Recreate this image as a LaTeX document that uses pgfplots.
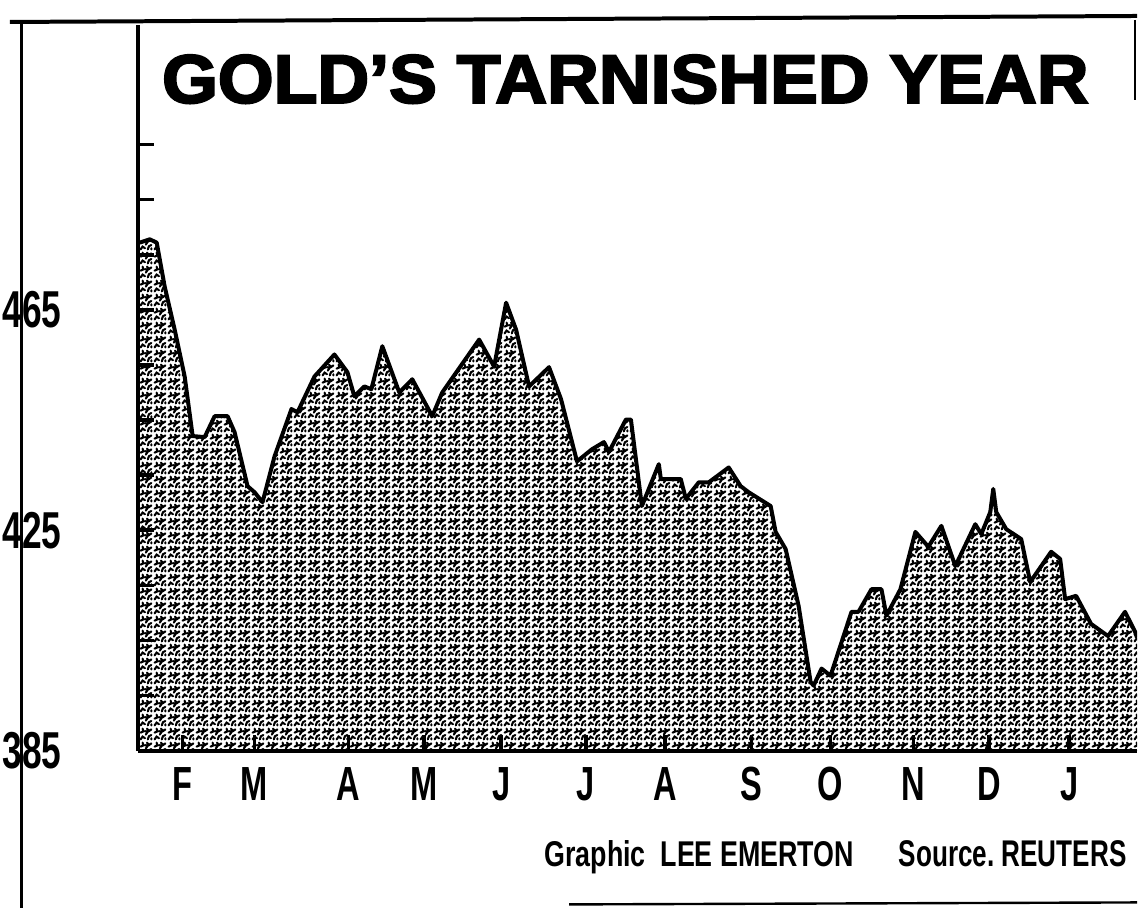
\documentclass[border=0pt]{standalone}
\usepackage{pgfplots}
\pgfplotsset{compat=1.18}
\usepackage{pgfplotstable}
\usetikzlibrary{patterns}
\usepackage{fontspec}
\setmainfont{Liberation Sans}
\newfontfamily\cond[FakeStretch=0.68]{Liberation Sans}
\newfontfamily\heavy[FakeBold=3]{Liberation Sans}

\pgfdeclarepatternformonly{stipple}{\pgfpointorigin}{\pgfpoint{7pt}{7pt}}{\pgfpoint{7pt}{7pt}}{%
  \pgfsetlinewidth{1.05pt}%
  \pgfsetroundcap
  \pgfpathmoveto{\pgfpoint{0.8pt}{0.8pt}}\pgfpathlineto{\pgfpoint{1.8pt}{2.2pt}}\pgfpathlineto{\pgfpoint{3.0pt}{1.4pt}}%
  \pgfpathmoveto{\pgfpoint{4.4pt}{0.8pt}}\pgfpathlineto{\pgfpoint{5.0pt}{2.4pt}}\pgfpathlineto{\pgfpoint{6.2pt}{3.0pt}}%
  \pgfpathmoveto{\pgfpoint{0.8pt}{4.2pt}}\pgfpathlineto{\pgfpoint{2.2pt}{4.8pt}}\pgfpathlineto{\pgfpoint{1.8pt}{6.2pt}}%
  \pgfpathmoveto{\pgfpoint{3.4pt}{3.2pt}}\pgfpathlineto{\pgfpoint{4.2pt}{4.4pt}}\pgfpathlineto{\pgfpoint{3.2pt}{5.0pt}}%
  \pgfpathmoveto{\pgfpoint{4.0pt}{6.2pt}}\pgfpathlineto{\pgfpoint{5.0pt}{5.0pt}}\pgfpathlineto{\pgfpoint{6.2pt}{5.8pt}}%
  \pgfpathmoveto{\pgfpoint{6.2pt}{0.8pt}}\pgfpathlineto{\pgfpoint{6.2pt}{1.4pt}}%
  \pgfusepath{stroke}%
}

% x: position along the year (page units), y: gold price
\pgfplotstableread{
x y
140 477.2
150 477.8
157 477.2
165 469.2
175 461.4
185 452.9
193 442.1
205 441.9
215 445.7
228 445.7
235 442.8
248 433.0
255 431.9
263 430.1
275 438.4
292 447.0
298 446.4
315 452.9
335 456.9
348 453.7
355 449.3
365 451.1
372 450.6
383 458.4
400 450.0
413 452.4
433 445.7
443 450.0
480 459.6
495 454.7
507 466.3
517 461.4
530 451.1
550 454.6
562 448.8
578 437.5
593 439.7
605 441.0
610 439.2
627 445.1
632 445.1
643 429.4
660 437.0
662 434.3
682 434.3
687 430.7
700 433.7
710 433.7
730 436.4
742 433.0
750 431.9
772 429.4
777 424.7
787 421.6
800 411.3
812 397.5
815 396.8
823 399.9
832 398.6
853 410.2
860 410.2
873 414.3
883 414.3
888 409.5
902 414.3
917 424.7
930 422.0
943 425.8
957 418.5
977 426.1
983 424.3
992 428.3
995 432.5
998 428.3
1008 425.2
1023 423.4
1032 415.6
1053 421.1
1062 419.8
1067 412.5
1078 413.1
1093 408.0
1110 405.8
1127 410.2
1137 406.6
1139 405.5
}\gold

\begin{document}
\begin{tikzpicture}
\begin{scope}[x=0.5pt,y=-0.5pt]
  \path[use as bounding box] (0,0) rectangle (1139,910);
  \draw[line width=2pt] (10,22) -- (1139,16);
  \draw[line width=1.5pt] (22,21) -- (22,910);
  \draw[line width=1pt] (1137,20) -- (1137,100);
  \draw[line width=1.2pt] (570,906) -- (1139,904);
  \node[anchor=base west, inner sep=0pt] at (162,103)
    {\resizebox{464pt}{24pt}{\heavy\bfseries GOLD’S TARNISHED YEAR}};
  \node[anchor=base west, inner sep=0pt] at (545,868)
    {\resizebox{155pt}{13pt}{\cond\bfseries Graphic\ \ LEE EMERTON}};
  \node[anchor=base west, inner sep=0pt] at (900,868)
    {\resizebox{114pt}{13pt}{\cond\bfseries Source.\ REUTERS}};
\end{scope}
\begin{axis}[
  at={(69pt,-376pt)}, anchor=south west,
  scale only axis, width=500.5pt, height=363.5pt,
  xmin=138, xmax=1139, ymin=385, ymax=516.7,
  axis x line*=bottom, axis y line*=left,
  axis line style={line width=2pt,-},
  every outer x axis line/.append style={-},
  every outer y axis line/.append style={-},
  tick align=inside,
  major tick length=8pt,
  tick style={line width=1.8pt, black},
  xtick={183,255,349,425,502,587,666,753,832,915,991,1071},
  xticklabels={F,M,A,M,J,J,A,S,O,N,D,J},
  ytick={385,395,...,495},
  yticklabels={385,,,,425,,,,465,,,},
  /pgf/number format/assume math mode=true,
  xticklabel style={anchor=north, inner sep=0pt, yshift=-8pt,
    font=\cond\bfseries\fontsize{24}{24}\selectfont},
  yticklabel style={anchor=east, inner sep=0pt, xshift=-38pt,
    font=\cond\bfseries\fontsize{26}{26}\selectfont},
  clip=true,
]
\addplot[draw=none, pattern=stipple, pattern color=black] table[x=x,y=y] {\gold} \closedcycle;
\addplot[black, line width=2pt, line join=round, mark=none] table[x=x,y=y] {\gold};
\end{axis}
\end{tikzpicture}
\end{document}
